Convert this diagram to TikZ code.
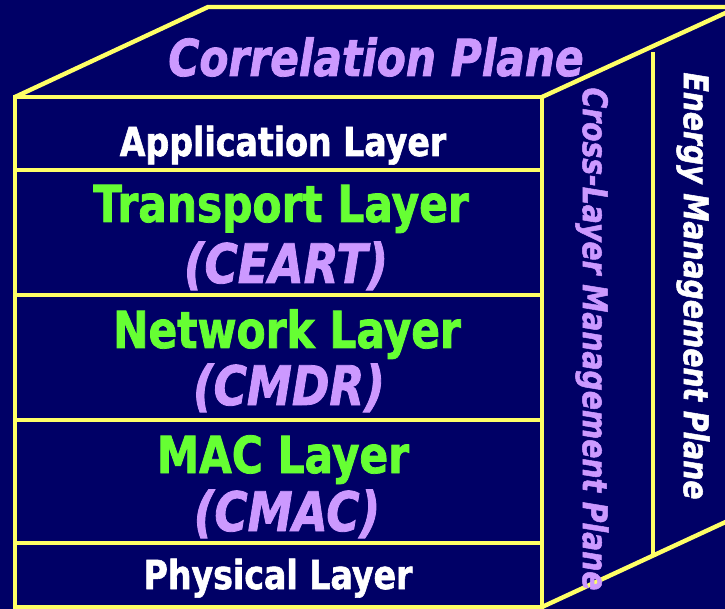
\documentclass[tikz,border=0pt]{standalone}
\usepackage{fontspec}
\setmainfont{DejaVu Sans}[FakeStretch=0.83,BoldFeatures={FakeBold=1.5},BoldItalicFeatures={FakeBold=1.5}]
\definecolor{bg}{HTML}{000066}
\definecolor{ln}{HTML}{FFFF66}
\definecolor{grn}{HTML}{66FF33}
\definecolor{lav}{HTML}{CC99FF}
\begin{document}
\begin{tikzpicture}[x=1pt,y=-1pt,
  edge/.style={draw=ln,line width=4.4pt},
  lbl/.style={inner sep=0pt,anchor=base},
  small/.style={lbl,text=white,font=\fontsize{40}{40}\selectfont\bfseries},
  big/.style={lbl,text=grn,font=\fontsize{51}{51}\selectfont\bfseries},
  acr/.style={lbl,text=lav,font=\fontsize{54.5}{54.5}\selectfont\bfseries\itshape},
  side/.style={inner sep=0pt,rotate=-90,font=\fontsize{34}{34}\selectfont\bfseries\itshape}]
\fill[bg] (0,0) rectangle (725,609);
\useasboundingbox (0,0) rectangle (725,609);
% corners
\coordinate (ftl) at (15,97);
\coordinate (ftr) at (542,97);
\coordinate (fbl) at (15,607);
\coordinate (fbr) at (542,607);
\coordinate (btl) at (208,7);
\coordinate (btr) at (740,7);
\coordinate (rtop) at (745,4);
\coordinate (rbot) at (745,513);
\coordinate (vtop) at (653,52);
\coordinate (vbot) at (653,555);
% box
\draw[edge] (ftl) rectangle (fbr);
\foreach \y in {170,295,420,543} \draw[edge] (15,\y) -- (542,\y);
\draw[edge] (ftl) -- (btl) -- (btr);
\draw[edge] (ftr) -- (rtop);
\draw[edge] (fbr) -- (rbot);
\draw[edge] (vtop) -- (vbot);
% texts
\node[lbl,text=lav,font=\fontsize{51}{51}\selectfont\bfseries\itshape] (corr) at (376,76) {Correlation Plane};
\node[small] (app) at (283,156) {Application Layer};
\node[big] (tra) at (281,222) {Transport Layer};
\node[acr] (ceart) at (286,283) {(CEART)};
\node[big] (net) at (287,348) {Network Layer};
\node[acr] (cmdr) at (289,405) {(CMDR)};
\node[big] (mac) at (283,473) {MAC Layer};
\node[acr] (cmac) at (287,531) {(CMAC)};
\node[small] (phy) at (278,589) {Physical Layer};
\node[side,text=lav] (cross) at (592,339) {Cross-Layer Management Plane};
\node[side,text=white] (energy) at (693,286) {Energy Management Plane};
\end{tikzpicture}
\end{document}
